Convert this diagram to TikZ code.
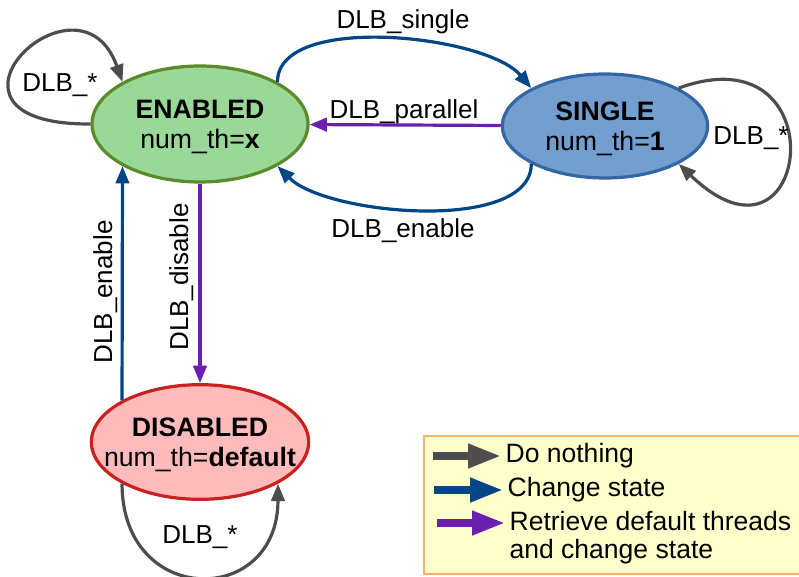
\documentclass[tikz,border=0pt]{standalone}
\usepackage{fontspec}
\setmainfont{Liberation Sans}
\usepackage{tikz}
\usetikzlibrary{arrows.meta, shapes}
\definecolor{nothingcol}{HTML}{4D4D4D}
\definecolor{changecol}{HTML}{004586}
\definecolor{retrievecol}{HTML}{6A1FB0}
\definecolor{enfill}{HTML}{99D899}
\definecolor{enline}{HTML}{5A8A2A}
\definecolor{sgfill}{HTML}{729FCF}
\definecolor{sgline}{HTML}{3465A4}
\definecolor{disfill}{HTML}{FFBBBB}
\definecolor{disline}{HTML}{C9211E}
\definecolor{legfill}{HTML}{FFFFCC}
\definecolor{legline}{HTML}{F5B26B}
\newcommand{\dlb}[1]{DLB\_#1}

\begin{document}
\begin{tikzpicture}[
            x=0.75pt, y=-0.75pt,
            >={Triangle[width=10pt,length=13pt]},
                base/.style = {ellipse, line width=2.4pt, inner sep=0pt},
                enabledstate/.style = {base, fill=enfill, draw=enline,
                            minimum width=162pt, minimum height=87pt},
                singlestate/.style = {base, fill=sgfill, draw=sgline,
                            minimum width=154pt, minimum height=78pt},
                disabledstate/.style = {base, fill=disfill, draw=disline,
                            minimum width=163pt, minimum height=86pt},
                statetext/.style = {align=center, yshift=-2pt,
                            font=\fontsize{20}{22.5}\selectfont},
                edgelabel/.style = {anchor=base, inner sep=1pt},
                nothing/.style = {->, line width=2.4pt, draw=nothingcol},
                change/.style = {->, line width=2.4pt, draw=changecol},
                retrieve/.style = {->, line width=2.4pt, draw=retrievecol},
                legendbox/.style = {fill=legfill, draw=legline, line width=1pt},
                legarrow/.style = {-{Triangle[width=17pt,length=25pt]},
                            line width=6pt, shorten >=2pt},
                legendtext/.style = {anchor=west, align=left, inner sep=1pt,
                            font=\fontsize{19.9}{21}\selectfont},
            every node/.style={font=\fontsize{19.5}{22.5}\selectfont}]
            \useasboundingbox (0,0) rectangle (799,577);
            \node (en) [enabledstate] at (200,124) {};
            \node (entext) [statetext] at (en) {
                \textbf{ENABLED} \\
                num\_th=\textbf{x}
            };
            \node (sg) [singlestate] at (605,126) {};
            \node (sgtext) [statetext] at (sg) {
                \textbf{SINGLE} \\
                num\_th=\textbf{1}
            };
            \node (dis) [disabledstate] at (200,442) {};
            \node (distext) [statetext] at (dis) {
                \textbf{DISABLED} \\
                num\_th=\textbf{default}
            };
            \draw[nothing] (en.west) .. controls +(-182,1) and +(-44,-123) .. (en.north west);
            \node (enloop) [edgelabel] at (60,92) {\dlb{*}};
            \draw[change] (en.north east) to [out=90, in=130, looseness=0.7] (sg.north west);
            \node (single) [edgelabel] at (403,29) {\dlb{single}};
            \draw[retrieve] (sg) -- (en);
            \node (parallel) [edgelabel] at (404,119) {\dlb{parallel}};
            \draw[change] (sg.south west) to [out=270, in=315, looseness=0.7] (en.south east);
            \node (enable) [edgelabel] at (403,238) {\dlb{enable}};
            \draw[nothing] (sg.north east) .. controls +(162,-59) and +(132,127) .. (sg.south east);
            \node (sgloop) [edgelabel] at (751,145) {\dlb{*}};
            \draw[change] (dis.north west) -- (en.south west);
            \node (reenable) [edgelabel, rotate=90] at (112,292) {\dlb{enable}};
            \draw[retrieve] (en) -- (dis);
            \node (disable) [edgelabel, rotate=90] at (188,277) {\dlb{disable}};
            \draw[nothing] (dis.south west) .. controls +(0,124) and +(0,124) .. (dis.south east);
            \node (disloop) [edgelabel] at (200,543) {\dlb{*}};
            \draw[legendbox] (424,436) rectangle (802,574);
            \coordinate (nothingstart) at (433,456);
            \node (nothingtext) [legendtext] at (504,456) {Do nothing};
            \draw[legarrow, nothingcol] (nothingstart) -- (nothingtext.west);
            \coordinate (changestart) at (434,490);
            \node (changetext) [legendtext] at (506,490) {Change state};
            \draw[legarrow, changecol] (changestart) -- (changetext.west);
            \coordinate (retrievestart) at (437,523);
            \node (retrievetext) [legendtext] at (508,538) {
                Retrieve default threads \\
                and change state
            };
            \draw[legarrow, retrievecol] (retrievestart) -- (retrievetext.west |- retrievestart);
        \end{tikzpicture}
\end{document}
